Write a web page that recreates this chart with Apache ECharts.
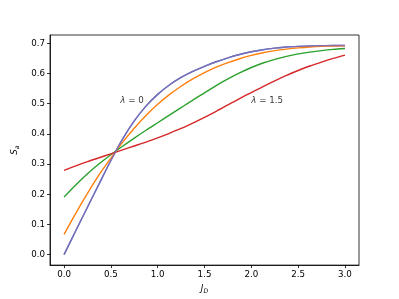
<!DOCTYPE html>
<html><head><meta charset="utf-8">
<script src="https://cdn.jsdelivr.net/npm/echarts@6/dist/echarts.min.js"></script>
<style>html,body{margin:0;padding:0;background:#fff}#c{width:399px;height:299px}</style>
</head><body><div id="c"></div>
<script>
const xs = [0, 0.125, 0.25, 0.375, 0.5, 0.625, 0.75, 0.875, 1.0, 1.125, 1.25, 1.375, 1.5, 1.625, 1.75, 1.875, 2.0, 2.125, 2.25, 2.375, 2.5, 2.625, 2.75, 2.875, 3.0];
const blueVals   = [0.000, 0.079, 0.157, 0.235, 0.312, 0.383, 0.443, 0.492, 0.531, 0.562, 0.587, 0.607, 0.624, 0.639, 0.652, 0.663, 0.672, 0.679, 0.684, 0.688, 0.690, 0.691, 0.692, 0.693, 0.693];
const orangeVals = [0.067, 0.137, 0.203, 0.265, 0.320, 0.372, 0.419, 0.461, 0.498, 0.530, 0.558, 0.582, 0.603, 0.621, 0.636, 0.649, 0.660, 0.669, 0.676, 0.681, 0.685, 0.688, 0.690, 0.691, 0.692];
const greenVals  = [0.191, 0.231, 0.268, 0.301, 0.331, 0.359, 0.386, 0.412, 0.437, 0.462, 0.487, 0.512, 0.536, 0.560, 0.582, 0.602, 0.620, 0.635, 0.647, 0.657, 0.665, 0.671, 0.676, 0.680, 0.683];
const redVals    = [0.279, 0.294, 0.308, 0.321, 0.334, 0.347, 0.360, 0.373, 0.387, 0.402, 0.418, 0.436, 0.455, 0.475, 0.496, 0.517, 0.537, 0.557, 0.576, 0.594, 0.610, 0.625, 0.638, 0.650, 0.661];
const purpleVals = blueVals;
const xTicks = [0, 0.5, 1.0, 1.5, 2.0, 2.5, 3.0];
const yTicks = [0, 0.1, 0.2, 0.3, 0.4, 0.5, 0.6, 0.7];
const annotations = [
  {x: 0.6, y: 0.5, text: '{i|λ} = 0'},
  {x: 2.0, y: 0.5, text: '{i|λ} = 1.5'}
];

const FONT = 'DejaVu Sans';
const pairs = v => xs.map((x, i) => [x, v[i]]);
function line(vals, color, op) {
  return {type: 'line', data: pairs(vals), smooth: 0.3, showSymbol: false, symbol: 'none',
    lineStyle: {color: color, width: 1.4, opacity: op}, silent: true, animation: false};
}
const chart = echarts.init(document.getElementById('c'), null, {renderer: 'canvas'});
chart.setOption({
  animation: false,
  grid: {left: 50, right: 40, top: 35, bottom: 33, show: true, borderColor: '#000', borderWidth: 0.8, backgroundColor: 'transparent'},
  xAxis: {
    type: 'value', min: -0.15, max: 3.15,
    axisLine: {show: true, onZero: false, lineStyle: {color: '#000', width: 0.8}},
    axisTick: {show: true, customValues: xTicks, length: 3, lineStyle: {color: '#000', width: 0.8}},
    axisLabel: {customValues: xTicks, formatter: v => v.toFixed(1), color: '#000', fontFamily: FONT, fontSize: 8.7, margin: 5},
    splitLine: {show: false},
    name: '{m|J}{s|D}', nameLocation: 'middle', nameGap: 14,
    nameTextStyle: {color: '#000', fontFamily: FONT, rich: {
      m: {fontSize: 8.7, fontStyle: 'italic', fontFamily: FONT, color: '#000'},
      s: {fontSize: 6.2, fontStyle: 'italic', fontFamily: FONT, color: '#000', padding: [5, 0, 0, 0]}
    }}
  },
  yAxis: {
    type: 'value', min: -0.03465, max: 0.72765,
    axisLine: {show: true, onZero: false, lineStyle: {color: '#000', width: 0.8}},
    axisTick: {show: true, customValues: yTicks, length: 3, lineStyle: {color: '#000', width: 0.8}},
    axisLabel: {customValues: yTicks, formatter: v => v.toFixed(1), color: '#000', fontFamily: FONT, fontSize: 8.7, margin: 5},
    splitLine: {show: false},
    name: '{m|S}{s|a}', nameLocation: 'middle', nameGap: 27, nameRotate: 90,
    nameTextStyle: {color: '#000', fontFamily: FONT, rich: {
      m: {fontSize: 8.7, fontStyle: 'italic', fontFamily: FONT, color: '#000'},
      s: {fontSize: 6.2, fontStyle: 'italic', fontFamily: FONT, color: '#000', padding: [5, 0, 0, 0]}
    }}
  },
  series: [
    line(blueVals, '#1f77b4', 1),
    line(orangeVals, '#ff7f0e', 1),
    line(greenVals, '#2ca02c', 1),
    line(redVals, '#d62728', 1),
    line(purpleVals, '#9467bd', 0.8),
    {type: 'scatter', symbolSize: 0, silent: true, animation: false,
     data: annotations.map(a => ({value: [a.x, a.y], label: {formatter: a.text}})),
     label: {show: true, position: 'right', distance: 0, offset: [0, -3], color: '#000', fontFamily: FONT, fontSize: 8.7,
       rich: {i: {fontStyle: 'italic', fontFamily: FONT, fontSize: 8.7, color: '#000'}}}}
  ]
});
</script></body></html>
